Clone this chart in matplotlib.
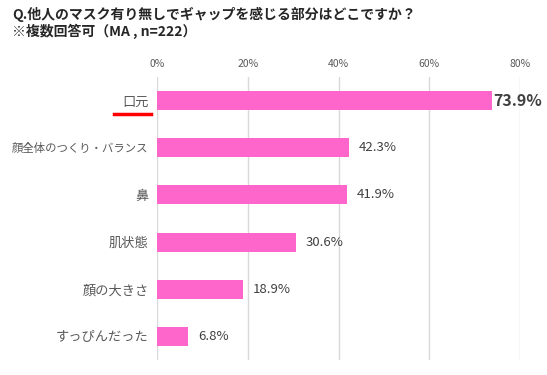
"""
bar chart: gap felt with / without mask
"""

import matplotlib.pyplot as plt
import numpy as np

plt.rcParams['font.family'] = ['Noto Sans CJK JP', 'DejaVu Sans']

categories = ["口元", "顔全体のつくり・バランス", "鼻", "肌状態", "顔の大きさ", "すっぴんだった"]
values = [73.9, 42.3, 41.9, 30.6, 18.9, 6.8]
ticks = [0, 20, 40, 60, 80]
tick_labels = ["0%", "20%", "40%", "60%", "80%"]

bar_color = "#FF66CC"
text_color = "#404040"

fig = plt.figure(figsize=(5.47, 3.75), dpi=100)
ax = fig.add_axes([157 / 547, 1 - 360 / 375, (520 - 157) / 547, (360 - 77) / 375])

y_pos = np.arange(len(categories))
ax.barh(y_pos, values, height=0.4, color=bar_color, zorder=3)
ax.set_ylim(len(categories) - 0.5, -0.5)
ax.set_xlim(0, 80)

# gridlines only, no frame
ax.set_xticks(ticks)
ax.set_xticklabels(tick_labels, fontsize=7.5, color="#595959")
ax.xaxis.tick_top()
ax.tick_params(axis="x", length=0, pad=6)
ax.grid(axis="x", color="#D9D9D9", linewidth=1, zorder=0)
for side in ax.spines.values():
    side.set_visible(False)

ax.set_yticks(y_pos)
ax.set_yticklabels(categories, fontsize=9.5, color="#595959")
ax.tick_params(axis="y", length=0, pad=6)
# the long label is narrower in the original font
long_lbl = ax.get_yticklabels()[1]
long_lbl.set_fontsize(8.2)

# value labels, the first one is highlighted
for i, v in enumerate(values):
    if i == 0:
        ax.text(v + 0.3, i, f"{v:.1f}%", va="center", ha="left",
                fontsize=11.5, fontweight="bold", color=text_color)
    else:
        ax.text(v + 2.2, i, f"{v:.1f}%", va="center", ha="left",
                fontsize=9.5, color=text_color)

# red underline below the top category
fig.add_artist(plt.Line2D([114 / 547, 151 / 547], [1 - 114 / 375, 1 - 114 / 375],
                          color="red", linewidth=2.5))

fig.text(12 / 547, 1 - 14 / 375, "Q.他人のマスク有り無しでギャップを感じる部分はどこですか？",
         fontsize=10, fontweight="bold", color="#262626", va="center", ha="left")
fig.text(12 / 547, 1 - 31 / 375, "※複数回答可（MA , n=222）",
         fontsize=10, fontweight="bold", color="#262626", va="center", ha="left")

fig.savefig("out.png", dpi=100)
